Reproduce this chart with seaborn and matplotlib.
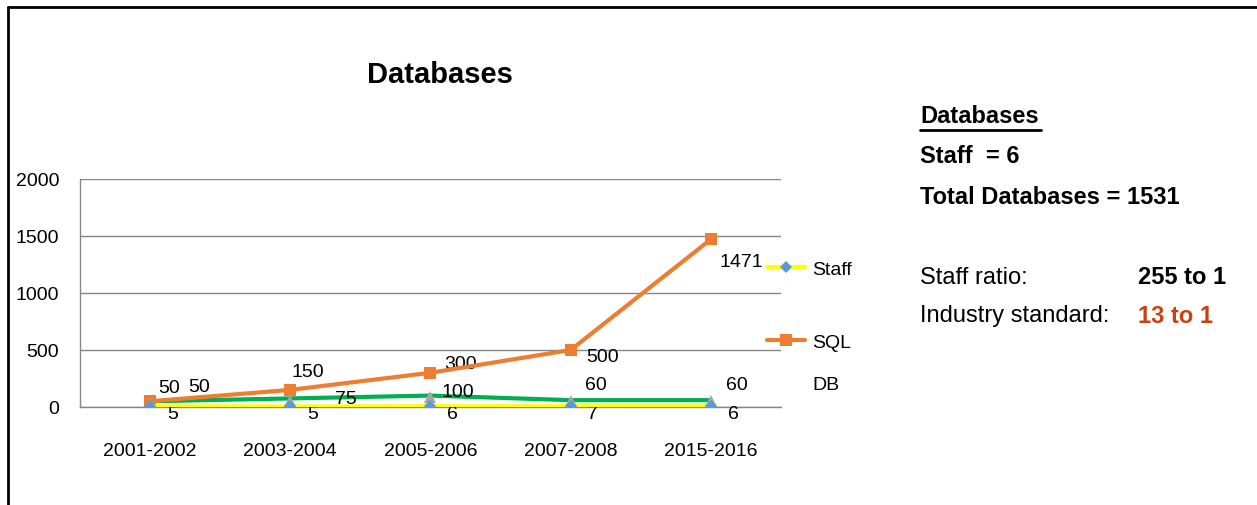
import matplotlib
matplotlib.use("Agg")
import matplotlib.pyplot as plt
from matplotlib.lines import Line2D
import pandas as pd
import seaborn as sns

# data
periods = ['2001-2002', '2003-2004', '2005-2006', '2007-2008', '2015-2016']
staff = [5, 5, 6, 7, 6]
sql_dbs = [50, 150, 300, 500, 1471]
other_dbs = [50, 75, 100, 60, 60]
gray_marks = [25, 50, 85, 50, 50]

sns.set_theme(style="white")
plt.rcParams['font.family'] = ['Liberation Sans', 'DejaVu Sans']
plt.rcParams['text.color'] = 'black'

fig = plt.figure(figsize=(12.57, 5.06), dpi=100)
ax = fig.add_axes([0.0636, 0.1937, 0.5577, 0.4506])

df = pd.DataFrame({'period': periods, 'staff': staff, 'sql': sql_dbs,
                   'db': other_dbs, 'gray': gray_marks})

sns.lineplot(data=df, x='period', y='db', ax=ax, color='#00B050', lw=3, zorder=3)
sns.lineplot(data=df, x='period', y='sql', ax=ax, color='#ED7D31', lw=3,
             marker='s', markersize=8, markeredgewidth=0, zorder=4)
sns.lineplot(data=df, x='period', y='staff', ax=ax, color='#FFFF00', lw=3, zorder=5)
sns.lineplot(data=df, x='period', y='gray', ax=ax, color='#A5A5A5', lw=0,
             marker='^', markersize=8, markeredgewidth=0, zorder=6)
sns.lineplot(data=df, x='period', y='staff', ax=ax, color='#5B9BD5', lw=0,
             marker='D', markersize=6, markeredgewidth=0, zorder=7)

ax.set_xlim(-0.5, 4.5)
ax.set_ylim(0, 2000)
ax.set_yticks([0, 500, 1000, 1500, 2000])
ax.set_xlabel('')
ax.set_ylabel('')
ax.yaxis.grid(True, color='#868686', lw=1)
ax.xaxis.grid(False)
for s in ['top', 'right']:
    ax.spines[s].set_visible(False)
for s in ['left', 'bottom']:
    ax.spines[s].set_color('#868686')
    ax.spines[s].set_linewidth(1)
ax.tick_params(axis='both', length=0, labelsize=14, colors='black')
ax.tick_params(axis='x', pad=25)
ax.tick_params(axis='y', pad=15)

# data labels (offsets in points)
sql_off = [(14, 10), (13, 13), (22, 7), (23, -5), (22, -16)]
db_off = [(35, 11), (40, 0), (20, 3), (18, 11), (19, 11)]
lab = dict(fontsize=14, ha='center', va='center', textcoords='offset points')
for i in range(len(periods)):
    ax.annotate(str(sql_dbs[i]), (i, sql_dbs[i]), xytext=sql_off[i], **lab)
    ax.annotate(str(other_dbs[i]), (i, other_dbs[i]), xytext=db_off[i], **lab)
    ax.annotate(str(staff[i]), (i, staff[i]), xytext=(16, -5), **lab)

# legend (cut off like in the original)
handles = [Line2D([], [], color='#FFFF00', lw=3, marker='D', markersize=6,
                  markerfacecolor='#5B9BD5', markeredgewidth=0),
           Line2D([], [], color='#ED7D31', lw=3, marker='s', markersize=8,
                  markeredgewidth=0)]
fig.legend(handles, ['Staff', 'SQL'], loc='upper left',
           bbox_to_anchor=(0.610, 0.484), frameon=False, fontsize=14,
           borderaxespad=0, borderpad=0, handlelength=1.95, handletextpad=0.4,
           labelspacing=2.85)
fig.text(0.646, 0.239, 'DB', fontsize=14, ha='left', va='center')

fig.text(0.35, 0.852, 'Databases', fontsize=21, fontweight='bold', ha='center', va='center')

# side panel
side = dict(fontsize=17, va='center', ha='left')
fig.text(0.732, 0.769, 'Databases', fontweight='bold', **side)
fig.add_artist(Line2D([0.732, 0.828], [0.741, 0.741], color='black', lw=2))
fig.text(0.732, 0.690, 'Staff  = 6', fontweight='bold', **side)
fig.text(0.732, 0.610, 'Total Databases = 1531', fontweight='bold', **side)
fig.text(0.732, 0.451, 'Staff ratio:', **side)
fig.text(0.905, 0.451, '255 to 1', fontweight='bold', **side)
fig.text(0.732, 0.375, 'Industry standard:', **side)
fig.text(0.905, 0.375, '13 to 1', fontweight='bold', color='#C9410F', **side)

# frame lines
fig.add_artist(Line2D([0.0064, 1.0], [0.984, 0.984], color='black', lw=2))
fig.add_artist(Line2D([0.0064, 0.0064], [0.0, 0.984], color='black', lw=2))

fig.savefig('out.png', dpi=100)
